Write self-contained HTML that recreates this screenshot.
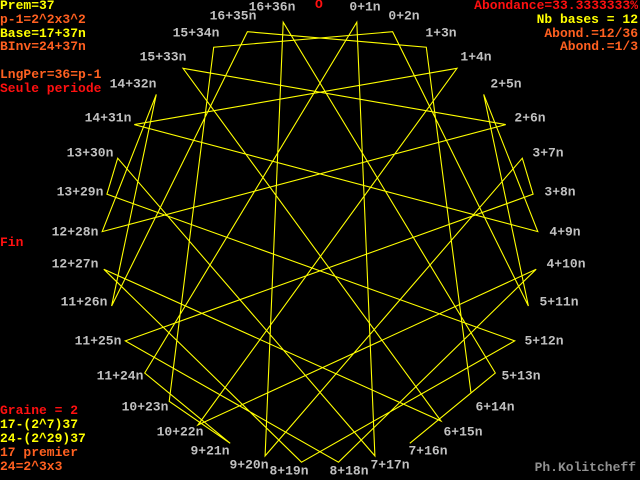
<!DOCTYPE html>
<html><head><meta charset="utf-8"><style>
html,body{margin:0;padding:0;background:#000;}
svg{display:block;}
text{font-family:"Liberation Mono",monospace;font-weight:bold;font-size:13px;}
.g{fill:#c0c0c0;text-anchor:middle;dominant-baseline:central;}
.y{fill:#ffff00;}.o{fill:#ff6020;}.r{fill:#ff1010;}
</style></head><body>
<svg width="640" height="480" viewBox="0 0 640 480" xmlns="http://www.w3.org/2000/svg">
<rect width="640" height="480" fill="#000"/>
<polygon fill="none" stroke="#ffff00" stroke-width="1.1" points="
356.8,22.2 374.9,455.9 117.7,158.2 106.9,194.2 514.7,340.9 301.5,462.2 103.8,269.2 441,421 183.0,68.3 505.7,124.6 102.2,231.6 156.3,94.4 111.6,306.0 247.4,31.7 426.3,47.2 471,393 409.8,443.3 495.3,373.0 283.2,22.2 265.1,455.9 522.3,158.2 533.1,194.2 125.3,340.9 338.5,462.2 536.2,269.2 197.9,425.0 457.0,68.3 134.3,124.6 537.8,231.6 483.7,94.4 528.4,306.0 392.6,31.7 213.7,47.2 169.2,401.3 230.2,443.3 144.7,373.0"/>
<g class="g">
<text class="g" x="365" y="7">0+1n</text>
<text class="g" x="404" y="16">0+2n</text>
<text class="g" x="441" y="33">1+3n</text>
<text class="g" x="476" y="57">1+4n</text>
<text class="g" x="506" y="84">2+5n</text>
<text class="g" x="530" y="118">2+6n</text>
<text class="g" x="548" y="153">3+7n</text>
<text class="g" x="560" y="192">3+8n</text>
<text class="g" x="565" y="232">4+9n</text>
<text class="g" x="566" y="264">4+10n</text>
<text class="g" x="559" y="302">5+11n</text>
<text class="g" x="544" y="341">5+12n</text>
<text class="g" x="521" y="376">5+13n</text>
<text class="g" x="495" y="407">6+14n</text>
<text class="g" x="463" y="432">6+15n</text>
<text class="g" x="428" y="451">7+16n</text>
<text class="g" x="390" y="465">7+17n</text>
<text class="g" x="349" y="471">8+18n</text>
<text class="g" x="289" y="471">8+19n</text>
<text class="g" x="249" y="465">9+20n</text>
<text class="g" x="210" y="451">9+21n</text>
<text class="g" x="180" y="432">10+22n</text>
<text class="g" x="145" y="407">10+23n</text>
<text class="g" x="120" y="376">11+24n</text>
<text class="g" x="98" y="341">11+25n</text>
<text class="g" x="84" y="302">11+26n</text>
<text class="g" x="75" y="264">12+27n</text>
<text class="g" x="75" y="232">12+28n</text>
<text class="g" x="80" y="192">13+29n</text>
<text class="g" x="90" y="153">13+30n</text>
<text class="g" x="108" y="118">14+31n</text>
<text class="g" x="133" y="84">14+32n</text>
<text class="g" x="163" y="57">15+33n</text>
<text class="g" x="196" y="33">15+34n</text>
<text class="g" x="233" y="16">16+35n</text>
<text class="g" x="272" y="7">16+36n</text>
</g>
<text class="r" x="315" y="8">O</text>
<text class="y" x="0" y="9">Prem=37</text>
<text class="o" x="0" y="23">p-1=2^2x3^2</text>
<text class="y" x="0" y="37">Base=17+37n</text>
<text class="o" x="0" y="50">BInv=24+37n</text>
<text class="o" x="0" y="78">LngPer=36=p-1</text>
<text class="r" x="0" y="92">Seule periode</text>
<text class="r" x="0" y="246">Fin</text>
<text class="r" x="0" y="414">Graine = 2</text>
<text class="y" x="0" y="428">17-(2^7)37</text>
<text class="y" x="0" y="442">24-(2^29)37</text>
<text class="o" x="0" y="456">17 premier</text>
<text class="o" x="0" y="470">24=2^3x3</text>
<text class="r" x="638" y="9" text-anchor="end">Abondance=33.3333333%</text>
<text class="y" x="638" y="23" text-anchor="end">Nb bases = 12</text>
<text class="o" x="638" y="37" text-anchor="end">Abond.=12/36</text>
<text class="o" x="638" y="50" text-anchor="end">Abond.=1/3</text>
<text x="636" y="471" text-anchor="end" fill="#909090">Ph.Kolitcheff</text>
</svg>
</body></html>
